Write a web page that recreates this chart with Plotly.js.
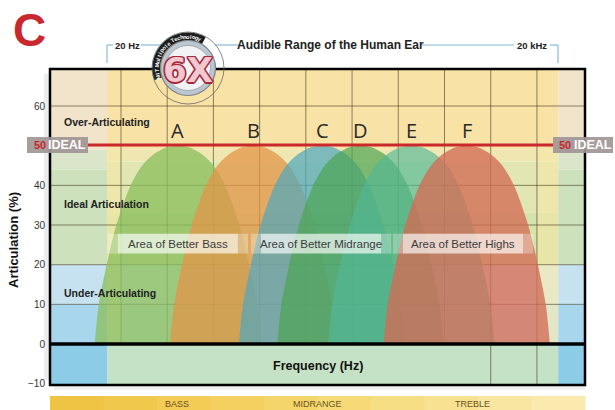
<!DOCTYPE html>
<html>
<head>
<meta charset="utf-8">
<script src="https://cdn.plot.ly/plotly-3.0.1.min.js"></script>
<style>html,body{margin:0;padding:0;background:#fff;}#chart{width:615px;height:410px;}</style>
</head>
<body>
<div id="chart"></div>
<script>
// ---------- data ----------
const curveNames = ['A', 'B', 'C', 'D', 'E', 'F'];
const curvePeaks = [2.23, 3.86, 5.35, 6.18, 7.28, 8.48];   // grid units along frequency axis
const curvePeakLevel = 50;
const profileHeights = [0, 10, 20, 30, 40, 45, 48, 49.6, 50];
const profileHalfWidths = [1.80, 1.71, 1.54, 1.33, 1.02, 0.77, 0.50, 0.24, 0];
const curveColors = ['rgba(138,190,92,0.76)', 'rgba(226,148,70,0.74)', 'rgba(78,166,190,0.70)',
                     'rgba(74,164,80,0.68)', 'rgba(84,184,150,0.66)', 'rgba(212,108,84,0.78)'];
const yTickVals = [-10, 0, 10, 20, 30, 40, 60];
const zoneLabels = ['Over-Articulating', 'Ideal Articulation', 'Under-Articulating'];
const zoneLabelY = [55.9, 35.2, 12.9];
const areaLabels = ['Area of Better Bass', 'Area of Better Midrange', 'Area of Better Highs'];
const areaCenters = [2.23, 5.33, 8.4];
const bandLabels = ['BASS', 'MIDRANGE', 'TREBLE'];
const bandLabelPx = [177, 317, 472];
const audibleRange = [0.70, 10.46];  // 20 Hz .. 20 kHz
const gridX = [1, 2, 3, 4, 5, 6, 7, 8, 9, 10];
const gridY = [10, 20, 30, 40, 60];

// ---------- geometry helpers ----------
const PL = 50, PR = 585, PT = 69, PB = 385;
const XR = [-0.536, 11.04], YR = [-10.33, 69.33];
const px = p => (p - PL) / (PR - PL);
const py = p => (PB - p) / (PB - PT);
const SANS = 'Liberation Sans, Arial, sans-serif';

// ---------- traces: bell curves ----------
const traces = curveNames.map((n, i) => {
  const c = curvePeaks[i];
  const xs = [], ys = [];
  for (let k = 0; k < profileHeights.length; k++) { xs.push(c - profileHalfWidths[k]); ys.push(profileHeights[k] * curvePeakLevel / 50); }
  for (let k = profileHeights.length - 2; k >= 0; k--) { xs.push(c + profileHalfWidths[k]); ys.push(profileHeights[k] * curvePeakLevel / 50); }
  return {type: 'scatter', mode: 'lines', x: xs, y: ys, fill: 'toself', fillcolor: curveColors[i],
          line: {width: 0, shape: 'spline', smoothing: 0.8}, hoverinfo: 'skip', showlegend: false, name: n};
});

// ---------- shapes ----------
const shapes = [];
function rect(x0, x1, y0, y1, color, layer, xref, yref) {
  shapes.push({type: 'rect', xref: xref || 'x', yref: yref || 'y', x0, x1, y0, y1, fillcolor: color,
               line: {width: 0}, layer: layer || 'below'});
}
function line(x0, y0, x1, y1, color, width, layer, xref, yref) {
  shapes.push({type: 'line', xref: xref || 'x', yref: yref || 'y', x0, y0, x1, y1,
               line: {color, width}, layer: layer || 'above'});
}
const A0 = audibleRange[0], A1 = audibleRange[1];
// audible interior
rect(A0, A1, 49, YR[1], '#f9e2a6');
rect(A0, A1, 46, 49, '#efe6b2');
rect(A0, A1, 33, 46, '#e1e6b2');
rect(A0, A1, 20, 33, '#d6e3ac');
rect(A0, A1, 10, 20, '#d8eaec');
rect(A0, A1, 0, 10, '#cde6ef');
rect(A0, A1, YR[0], 0, '#c6e2c6');
// margins outside audible range
[[XR[0], A0], [A1, XR[1]]].forEach(([a, b]) => {
  rect(a, b, 49, YR[1], '#f1e4cb');
  rect(a, b, 44, 49, '#dbe5c9');
  rect(a, b, 20, 44, '#cce1bc');
  rect(a, b, 10, 20, '#c6e2f0');
  rect(a, b, 0, 10, '#a8d6ec');
  rect(a, b, YR[0], 0, '#8dcce6');
});
// yellowish edge columns
rect(A0, 1.0, 0, 49, 'rgba(248,232,165,0.55)');
rect(10.0, A1, 0, 49, 'rgba(248,232,165,0.55)');
// grid lines
gridY.forEach(v => line(XR[0], v, XR[1], v, 'rgba(70,58,30,0.6)', 1, 'between'));
gridX.forEach(v => line(v, v >= 9 ? YR[0] : 0, v, YR[1], 'rgba(70,58,30,0.6)', 1, 'between'));
// label bands
areaCenters.forEach(c => {
  rect(c - 1.3, c + 1.3, 22.8, 27.8, 'rgba(255,255,255,0.66)', 'above');
  rect(c - 1.52, c - 1.3, 22.8, 27.8, 'rgba(255,255,255,0.3)', 'above');
  rect(c + 1.3, c + 1.52, 22.8, 27.8, 'rgba(255,255,255,0.3)', 'above');
});
// shadows
rect(px(44), px(50), py(380), py(74), 'rgba(0,0,0,0.07)', 'above', 'paper', 'paper');
rect(px(54), px(585), py(385), py(390), 'rgba(0,0,0,0.06)', 'above', 'paper', 'paper');
// frame + zero line
shapes.push({type: 'rect', xref: 'paper', yref: 'paper', x0: 0, x1: 1, y0: 0, y1: 1,
             line: {color: '#000', width: 2.5}, fillcolor: 'rgba(0,0,0,0)', layer: 'above'});
line(XR[0], 0, XR[1], 0, '#000', 3.5);
// red ideal line
line(px(88), py(145), px(553), py(145), '#c9282c', 3, 'above', 'paper', 'paper');
// ideal boxes
rect(px(27), px(88), py(153), py(137), 'rgba(160,150,150,0.92)', 'above', 'paper', 'paper');
rect(px(553), px(613), py(153), py(137), 'rgba(160,150,150,0.92)', 'above', 'paper', 'paper');
// bottom yellow bar (stepped gradient)
const barCols = ['#efc445', '#f0c84c', '#f2cc55', '#f3d05f', '#f4d56a', '#f5da77', '#f6de84', '#f8e292', '#f9e6a0', '#faeaae'];
barCols.forEach((c, i) => {
  const w = (585 - 50) / barCols.length;
  rect(px(50 + i * w), px(50 + (i + 1) * w + 0.5), py(410), py(396), c, 'above', 'paper', 'paper');
});
// top bracket lines
const BL = '#86bcd6';
line(px(107), py(63), px(107), py(45), BL, 1.2, 'above', 'paper', 'paper');
line(px(107), py(45), px(113), py(45), BL, 1.2, 'above', 'paper', 'paper');
line(px(141), py(45), px(162), py(45), BL, 1.2, 'above', 'paper', 'paper');
line(px(215), py(45), px(239), py(45), BL, 1.2, 'above', 'paper', 'paper');
line(px(421), py(45), px(514), py(45), BL, 1.2, 'above', 'paper', 'paper');
line(px(550), py(45), px(558), py(45), BL, 1.2, 'above', 'paper', 'paper');
line(px(558), py(45), px(558), py(63), BL, 1.2, 'above', 'paper', 'paper');
// logo
const LC = [188, 68];
function circ(r, fill, stroke, w) {
  shapes.push({type: 'circle', xref: 'paper', yref: 'paper', x0: px(LC[0] - r), x1: px(LC[0] + r),
               y0: py(LC[1] + r), y1: py(LC[1] - r), fillcolor: fill, line: {color: stroke, width: w}, layer: 'above'});
}
circ(36, 'rgba(0,0,0,0)', '#6a6a6a', 0.8);
let arcPath = '';
for (let a = 200; a >= 60; a -= 5) {
  const t = a * Math.PI / 180;
  const X = px(LC[0] + 31.5 * Math.cos(t)), Y = py(LC[1] - 31.5 * Math.sin(t));
  arcPath += (arcPath ? ' L' : 'M') + X.toFixed(5) + ',' + Y.toFixed(5);
}
shapes.push({type: 'path', xref: 'paper', yref: 'paper', path: arcPath, line: {color: '#1e1e1e', width: 8}, layer: 'above'});
circ(27.5, '#bcc6ce', '#7d858d', 1.2);
circ(22.5, '#f1f3f5', '#9aa2aa', 0.8);

// ---------- annotations ----------
const ann = [];
function txt(text, x, y, size, color, opts) {
  ann.push(Object.assign({text, x, y, xref: 'paper', yref: 'paper', showarrow: false,
    font: {size, color, family: SANS}, xanchor: 'center', yanchor: 'middle'}, opts || {}));
}
txt('<b>C</b>', px(29), py(30), 46, '#c9282e');
txt('<b>20 Hz</b>', px(127), py(45), 9.5, '#222');
txt('<b>Audible Range of the Human Ear</b>', px(330), py(45), 12, '#222');
txt('<b>20 kHz</b>', px(532), py(45), 9.5, '#222');
// 6X with outline via text shadow
const outline = '-1.2px -1.2px 0 #a8283a, 1.2px -1.2px 0 #a8283a, -1.2px 1.2px 0 #a8283a, 1.2px 1.2px 0 #a8283a, 0 1.5px 0 #a8283a, 0 -1.5px 0 #a8283a, 1.5px 0 0 #a8283a, -1.5px 0 0 #a8283a';
txt('<b>6X</b>', px(LC[0]), py(LC[1] + 2), 34, '#f2c8d0',
    {font: {size: 34, color: '#f2c8d0', family: 'DejaVu Sans, sans-serif', shadow: outline}});
const arcText = 'MIT Multipole Technology';
for (let i = 0; i < arcText.length; i++) {
  const a = 196 - i * (128 / (arcText.length - 1));
  const t = a * Math.PI / 180;
  txt('<b>' + arcText[i] + '</b>', px(LC[0] + 31.5 * Math.cos(t)), py(LC[1] - 31.5 * Math.sin(t)), 5.5, '#fff',
      {textangle: 90 - a});
}
// letters over curves
curveNames.forEach((n, i) => ann.push({text: n, x: curvePeaks[i], y: 53.8, xref: 'x', yref: 'y', showarrow: false,
  font: {size: 20, color: '#2a2a2a', family: 'Open Sans, DejaVu Sans, sans-serif'}, yanchor: 'middle'}));
// zone labels
zoneLabels.forEach((z, i) => ann.push({text: '<b>' + z + '</b>', x: -0.27, y: zoneLabelY[i], xref: 'x', yref: 'y',
  showarrow: false, xanchor: 'left', yanchor: 'middle', font: {size: 10.5, color: '#222', family: SANS}}));
// area labels
areaLabels.forEach((a, i) => ann.push({text: a, x: areaCenters[i], y: 25.3, xref: 'x', yref: 'y',
  showarrow: false, yanchor: 'middle', font: {size: 11.5, color: '#3c3c3c', family: SANS}}));
// ideal boxes text
txt('<b>50</b>', px(40), py(145), 11, '#c9282e');
txt('<b>IDEAL</b>', px(67), py(145), 12.5, '#fff');
txt('<b>50</b>', px(565), py(145), 11, '#c9282e');
txt('<b>IDEAL</b>', px(593), py(145), 12.5, '#fff');
// frequency label
txt('<b>Frequency (Hz)</b>', px(318), py(366), 12.5, '#111');
// y title
txt('<b>Articulation (%)</b>', px(13), py(240), 13, '#111', {textangle: -90});
// band labels
bandLabels.forEach((b, i) => txt(b, px(bandLabelPx[i]), py(404), 9, '#6a5220'));

const layout = {
  width: 615, height: 410,
  margin: {l: PL, r: 615 - PR, t: PT, b: 410 - PB, pad: 0},
  paper_bgcolor: '#fff', plot_bgcolor: '#fff',
  xaxis: {range: XR, showgrid: false, zeroline: false, showticklabels: false, ticks: '', fixedrange: true},
  yaxis: {range: YR, showgrid: false, zeroline: false, tickvals: yTickVals, ticks: '',
          tickfont: {size: 10, color: '#333', family: SANS}, ticklabelstandoff: 4, fixedrange: true},
  shapes, annotations: ann, showlegend: false
};
Plotly.newPlot('chart', traces, layout, {staticPlot: true, displayModeBar: false});
</script>
</body>
</html>
